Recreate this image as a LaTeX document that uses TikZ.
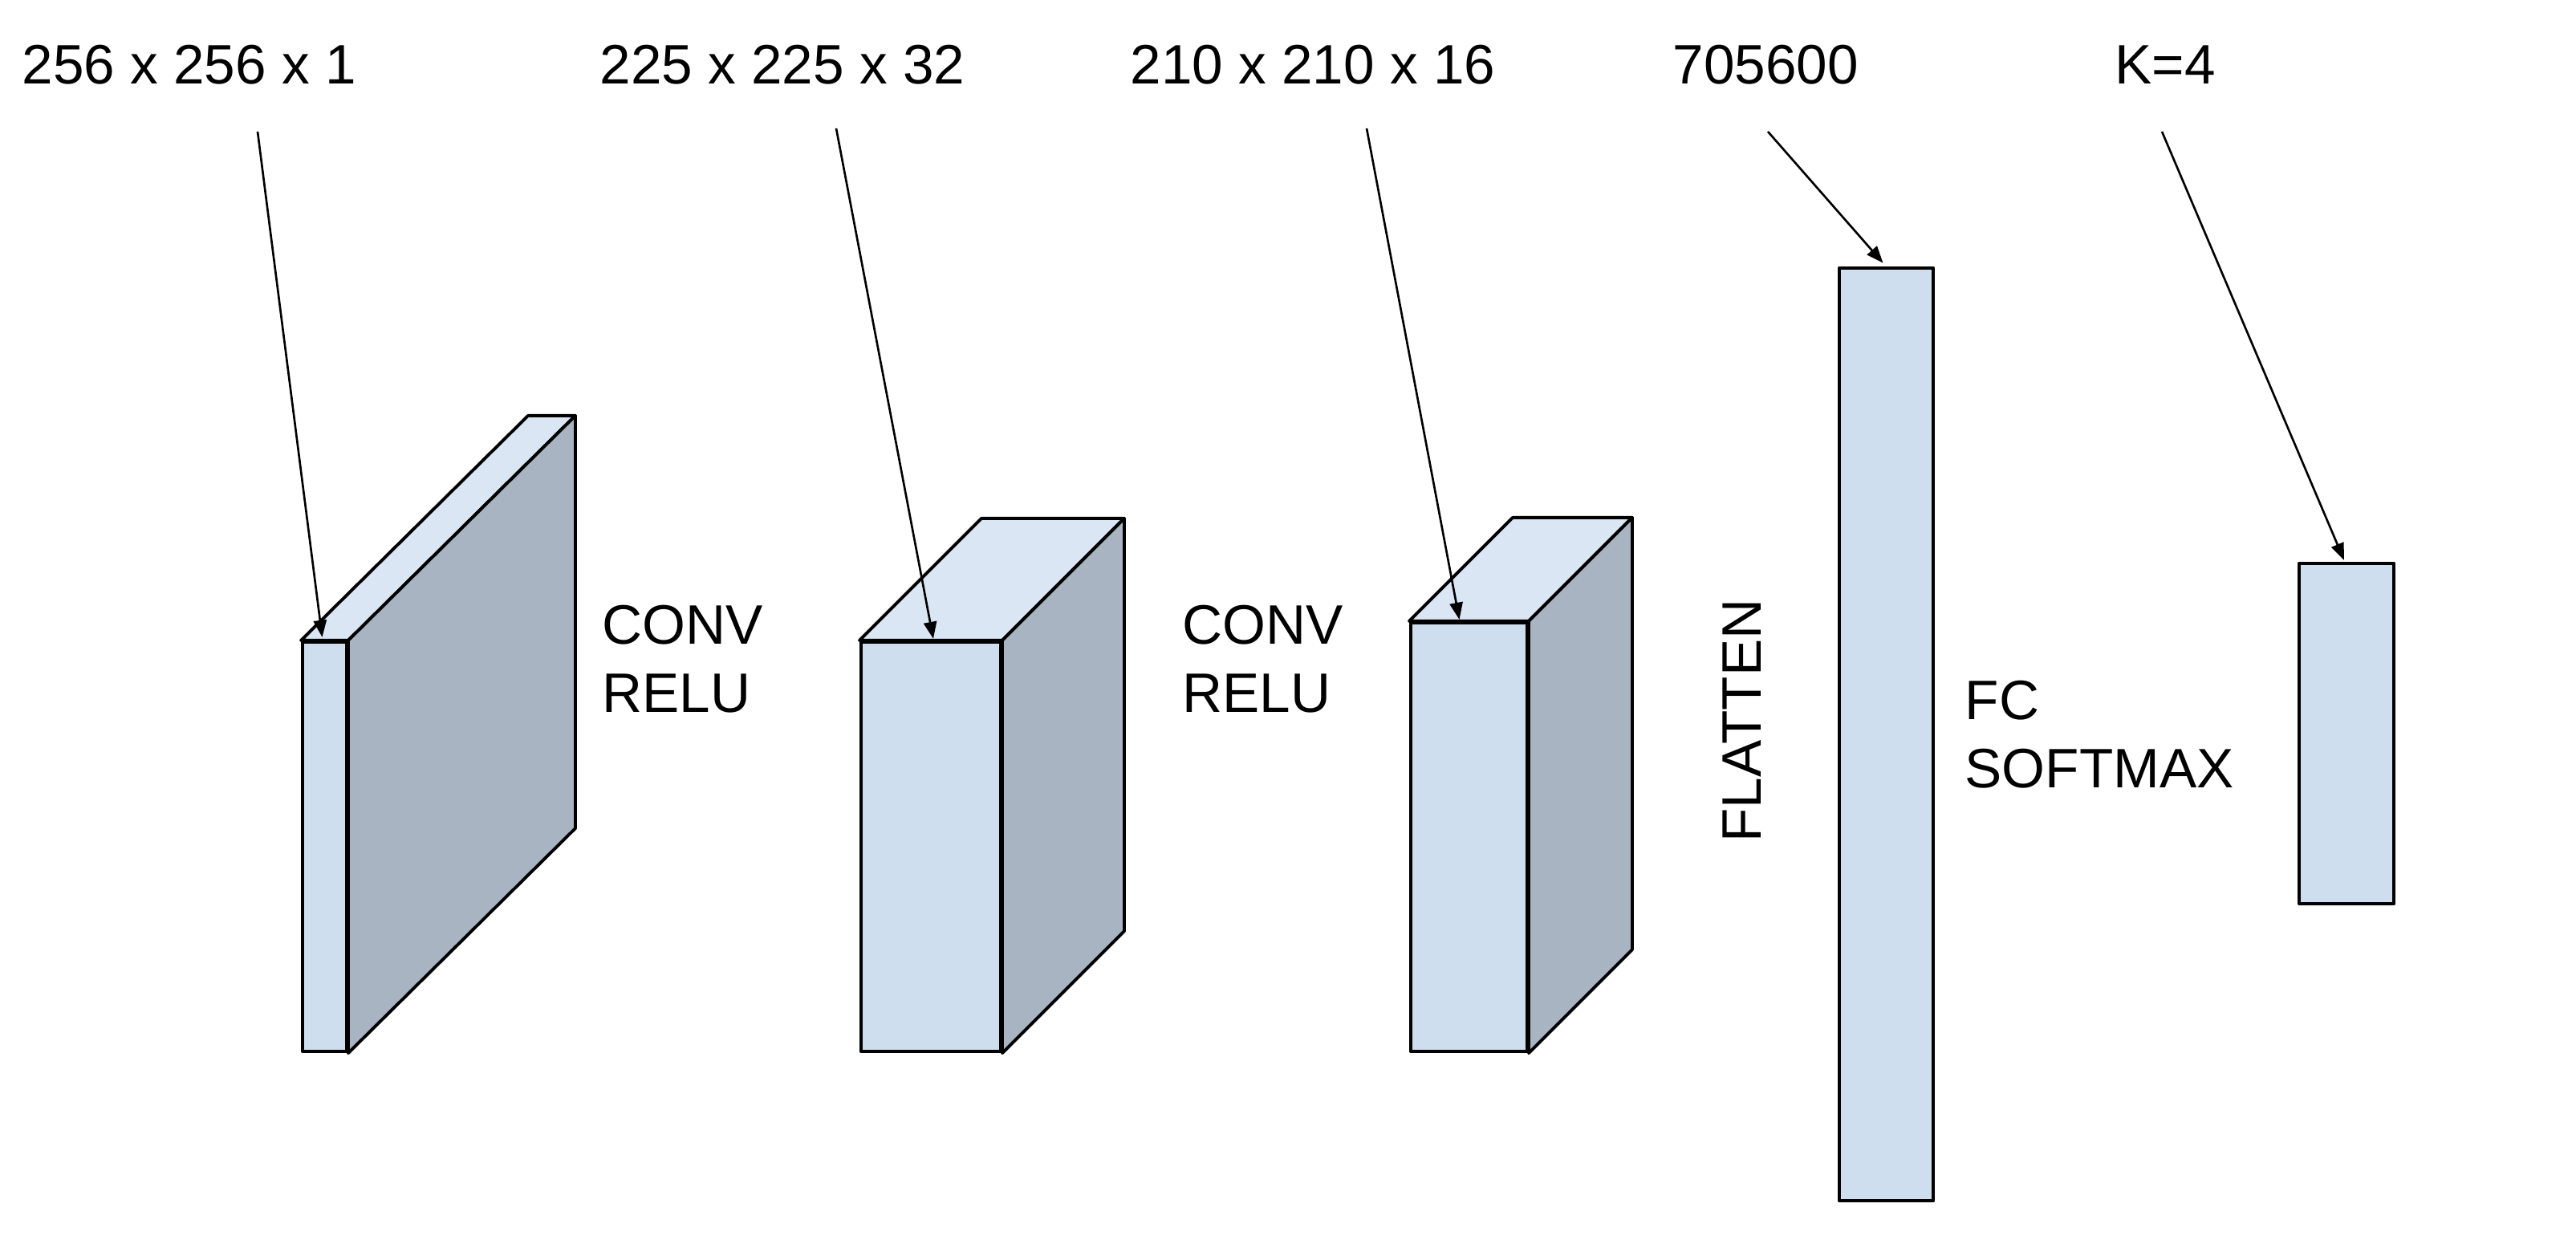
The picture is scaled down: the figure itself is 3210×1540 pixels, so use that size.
\documentclass[tikz,border=0pt]{standalone}
\usepackage{fontspec}
\setmainfont{Liberation Sans}
\usetikzlibrary{calc,arrows.meta}
\definecolor{frontc}{RGB}{207,222,238}
\definecolor{sidec}{RGB}{168,180,194}
\definecolor{topc}{RGB}{218,230,243}
\tikzset{
  face/.style={draw=black, line width=1.1pt, line join=round},
  frontbox/.style={face, fill=frontc, rectangle, inner sep=0pt},
  lbl/.style={inner sep=0pt, font=\fontsize{19.7}{24.2}\selectfont},
  ptr/.style={draw=black, line width=0.75pt, -{Triangle[length=6pt,width=4.6pt]}}
}
\newcommand{\cuboid}[2]{%
  \path[face, fill=topc] (#1.north west) -- ($(#1.north west)+#2$) -- ($(#1.north east)+#2$) -- (#1.north east) -- cycle;
  \path[face, fill=sidec] (#1.north east) -- ($(#1.north east)+#2$) -- ($(#1.south east)+#2$) -- (#1.south east) -- cycle;
}
\begin{document}
\begin{tikzpicture}[x=0.01cm, y=-0.01cm]
\useasboundingbox (0,0) rectangle (3210,1540);

% front faces
\node[frontbox, minimum width=0.55cm, minimum height=5.10cm] (f1) at (404.5,1055) {};
\node[frontbox, minimum width=1.74cm, minimum height=5.10cm] (f2) at (1160,1055) {};
\node[frontbox, minimum width=1.45cm, minimum height=5.34cm] (f3) at (1830.5,1043) {};
\node[frontbox, minimum width=1.17cm, minimum height=11.62cm] (f4) at (2350.5,915) {};
\node[frontbox, minimum width=1.18cm, minimum height=4.24cm] (f5) at (2924,914) {};

\cuboid{f1}{(283,-280)}
\cuboid{f2}{(152,-152)}
\cuboid{f3}{(129,-129)}

% top labels
\node[lbl, anchor=base west] (t1) at (27,105) {256 x 256 x 1};
\node[lbl, anchor=base west] (t2) at (747,105) {225 x 225 x 32};
\node[lbl, anchor=base west] (t3) at (1408,105) {210 x 210 x 16};
\node[lbl, anchor=base west] (t4) at (2084,105) {705600};
\node[lbl, anchor=base west] (t5) at (2635,105) {K=4};

% side labels
\node[lbl, anchor=north west, align=left] (c1) at (750,753) {CONV\\RELU};
\node[lbl, anchor=north west, align=left] (c2) at (1473,753) {CONV\\RELU};
\node[lbl, rotate=90] (fl) at (2171,898) {FLATTEN};
\node[lbl, anchor=north west, align=left] (fc) at (2448,847) {FC\\SOFTMAX};

% arrow starts
\coordinate (s1) at (321,164);
\coordinate (s2) at (1042,160);
\coordinate (s3) at (1703,160);
\coordinate (s4) at (2203,164);
\coordinate (s5) at (2694,164);

\draw[ptr] (s1) -- ($(f1.north)+(-3,-4)$);
\draw[ptr] (s2) -- ($(f2.north)+(3,-2)$);
\draw[ptr] (s3) -- ($(f3.north)+(-12,-2)$);
\draw[ptr] (s4) -- ($(f4.north)+(-4,-4)$);
\draw[ptr] (s5) -- ($(f5.north)+(-3,-2)$);
\end{tikzpicture}
\end{document}
